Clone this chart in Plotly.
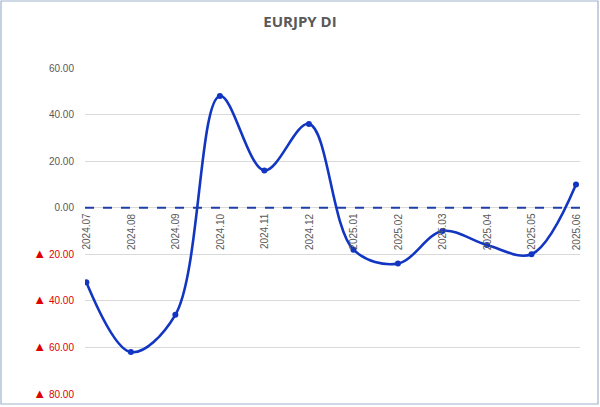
import plotly.graph_objects as go

categories = ["2024.07", "2024.08", "2024.09", "2024.10", "2024.11", "2024.12",
              "2025.01", "2025.02", "2025.03", "2025.04", "2025.05", "2025.06"]
di_values = [-32, -62, -46, 48, 16, 36, -18, -24, -10, -16, -20, 10]
tick_values = [60, 40, 20, 0, -20, -40, -60, -80]
title_text = "EURJPY DI"

def tick_label(v):
    if v < 0:
        return (f"<span style='color:#E00000'><span style='font-size:13px'>▲</span>"
                f" {abs(v):.2f}</span>")
    return f"{v:.2f}"

tick_texts = [tick_label(v) for v in tick_values]

W, H = 600, 407
ML, MR, MT, MB = 85, 20, 68, 13
pw, ph = W - ML - MR, H - MT - MB

xs = list(range(len(categories)))

fig = go.Figure()
fig.add_trace(go.Scatter(
    x=xs, y=di_values, mode="lines+markers",
    line=dict(color="#1236C2", width=2.6, shape="spline", smoothing=1.0),
    marker=dict(color="#1236C2", size=6),
    showlegend=False, hoverinfo="skip",
))

# category labels sitting under the zero line
for i, c in enumerate(categories):
    fig.add_annotation(x=i, y=0, xref="x", yref="y", text=c, showarrow=False,
                       textangle=-90, yanchor="top", xanchor="center", yshift=-3,
                       font=dict(family="Liberation Sans, Arial", size=10, color="#595959"))

# dashed zero line
fig.add_shape(type="line", xref="paper", yref="y", x0=0, x1=1, y0=0, y1=0,
              line=dict(color="#1F3FA8", width=2, dash="dash"), layer="above")

# outer border of the chart area
fig.add_shape(type="rect", xref="paper", yref="paper",
              x0=(1 - ML) / pw, x1=(W - 2 - ML) / pw,
              y0=-(MB - 3) / ph, y1=(H - MB - 1) / ph,
              line=dict(color="#9DB3CC", width=1.2), fillcolor="rgba(0,0,0,0)")

fig.update_layout(
    width=W, height=H,
    margin=dict(l=ML, r=MR, t=MT, b=MB, autoexpand=False),
    paper_bgcolor="white", plot_bgcolor="white",
    title=dict(text=f"<b>{title_text}</b>", x=0.5, xanchor="center", y=1 - 22 / H, yanchor="middle",
               font=dict(family="Open Sans, Liberation Sans", size=15, color="#595959")),
    xaxis=dict(range=[-0.03, 11.09], showgrid=False, zeroline=False, showticklabels=False,
               showline=False, ticks="", automargin=False),
    yaxis=dict(range=[-80, 60], tickvals=tick_values, ticktext=tick_texts,
               showgrid=True, gridcolor="#D9D9D9", gridwidth=1, zeroline=False,
               showline=False, ticks="", ticklabelstandoff=10, automargin=False,
               tickfont=dict(family="Liberation Sans, Arial", size=10, color="#595959")),
)

fig.write_html("out.html", config={"displayModeBar": False},
               post_script="document.body.style.margin='0';document.body.style.overflow='hidden';")
